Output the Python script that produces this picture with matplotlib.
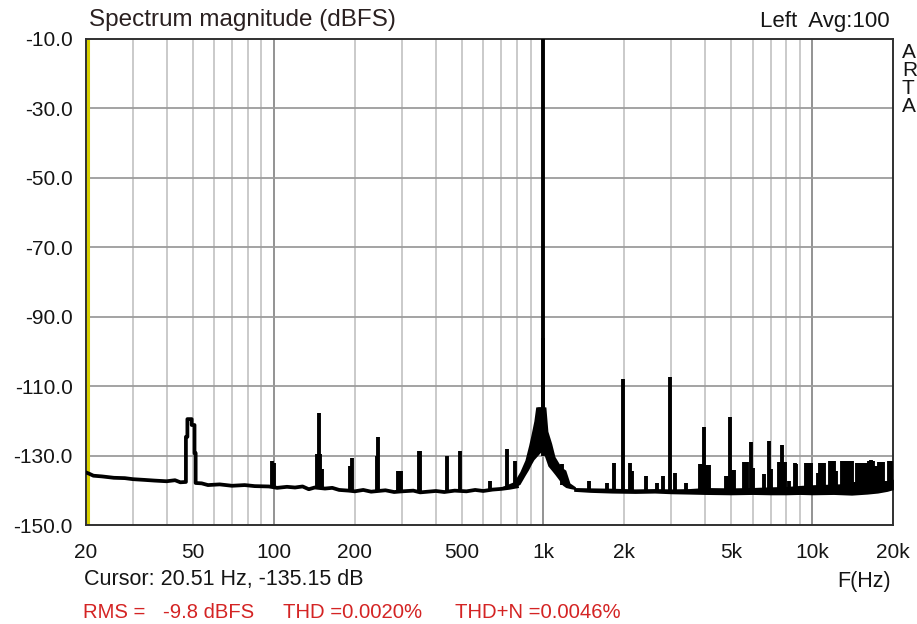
import numpy as np
import matplotlib
matplotlib.use("Agg")
import matplotlib.pyplot as plt
from matplotlib.ticker import FixedLocator, NullLocator

plt.rcParams['font.family'] = ['Liberation Sans', 'DejaVu Sans']

# noise floor trace (Hz, dBFS)
floor_hz = [20, 20.6, 21.4, 23, 25.5, 28, 30, 33, 36, 40, 43, 45, 47.2,
            47.2, 47.8, 47.8, 49.6, 49.6, 50.8, 50.8, 51.3, 51.3,
            54, 57, 63, 70, 78, 85, 96, 103, 112, 120, 128, 135, 142,
            155, 165, 175, 190, 200, 215, 230, 260, 280, 300, 330, 350,
            400, 430, 470, 520, 560, 600, 650, 700, 750, 800]
floor_db = [-134.8, -135.2, -135.8, -136.0, -136.4, -136.5, -136.8, -137.0, -137.2, -137.4, -137.1, -137.7, -137.6,
            -124.6, -124.6, -119.5, -119.5, -121.2, -121.2, -129.3, -129.3, -137.9,
            -138.0, -138.5, -138.3, -138.7, -138.5, -138.8, -138.9, -139.3, -139.0, -139.2, -138.9, -139.7, -139.2,
            -139.5, -139.3, -139.9, -140.1, -140.3, -139.9, -140.4, -140.0, -140.5, -140.3, -140.1, -140.6,
            -140.2, -140.5, -140.1, -140.3, -139.9, -140.2, -139.8, -139.6, -139.3, -138.9]

# skirt around the 1 kHz tone
skirt_hz = [700, 780, 821, 857, 885, 905, 925, 940, 960, 975, 990, 1005, 1025, 1043, 1077, 1108, 1146, 1180, 1215, 1259, 1320]
skirt_lo = [-139.6, -139.2, -138.3, -135.8, -134.0, -132.5, -131.2, -130.6, -129.8, -129.2, -128.9, -129.4, -131.3, -133.0, -134.3, -135.5, -137.0, -138.5, -139.2, -139.5, -139.8]
skirt_hi = [-139.0, -137.5, -134.6, -131.3, -127.0, -123.6, -120.0, -116.0, -115.9, -115.9, -115.9, -115.9, -116.0, -123.0, -126.5, -130.3, -132.2, -133.5, -134.2, -137.9, -139.0]

# noise band above 1.3 kHz
band_hz = [1300, 1500, 1800, 2200, 2600, 3000, 3500, 4000, 5000, 6000, 7000, 8000, 9000, 10000, 12000, 14000, 16000, 17500, 19000, 20000]
band_lo = [-140.3, -140.6, -140.8, -140.9, -140.8, -141.0, -141.1, -141.2, -141.3, -141.2, -141.3, -141.3, -141.2, -141.3, -141.2, -141.4, -141.1, -140.8, -140.3, -139.8]
band_hi = [-139.2, -139.3, -139.4, -139.6, -139.5, -139.6, -139.5, -139.2, -139.3, -139.2, -139.0, -138.9, -138.6, -138.4, -138.2, -138.0, -138.2, -137.8, -137.2, -136.8]

# hum, harmonics and spurs: frequency, peak level, base level
spike_hz = [98.5, 100.5, 145, 147, 149, 150.5, 192, 196, 241, 244, 290, 297, 345, 349, 440, 490, 635, 735, 790,
            1000, 1000, 1180, 1482, 1729, 1830, 1975, 2110, 2150, 2420, 2650, 2800, 2960, 3100, 3400,
            3820, 3880, 3950, 4050, 4120, 4780, 4850, 4950, 5050, 5120, 5600, 5700, 5900, 6050, 6600, 6900, 7050,
            7550, 7720, 7900, 8200, 8600, 8700, 9500, 9700, 9900, 10500, 10700, 10900, 11100, 11600, 11800, 12000,
            12300, 12900, 13100, 13400, 13600, 13800, 14000, 14300, 14700, 15000, 15300, 15600, 15900, 16200, 16500,
            16800, 17200, 17700, 18000, 18300, 18700, 19300, 19600, 19900]
spike_top = [-131.6, -132.2, -129.5, -117.6, -129.5, -134.0, -133.0, -130.8, -130.0, -124.6, -134.4, -134.4, -128.7, -128.7, -130.1, -128.7, -137.3, -128.1, -131.5,
             -10.0, -96.0, -132.3, -137.2, -138.0, -132.0, -107.9, -132.0, -134.5, -136.0, -138.0, -136.0, -107.3, -135.1, -138.0,
             -132.3, -132.3, -121.7, -132.7, -132.7, -136.0, -136.0, -118.8, -134.2, -134.2, -131.8, -131.8, -126.2, -133.5, -135.2, -125.7, -134.0,
             -131.8, -127.0, -131.8, -137.2, -132.0, -132.5, -132.0, -132.0, -132.0, -135.0, -132.0, -132.0, -132.0, -131.5, -131.5, -131.5,
             -134.5, -131.5, -131.5, -131.5, -131.5, -131.5, -131.5, -137.5, -132.0, -132.0, -132.0, -132.0, -132.0, -131.7, -131.3,
             -131.7, -133.0, -131.8, -131.8, -131.8, -137.2, -131.5, -131.5, -133.0]
spike_base = [-139.0, -139.0, -139.3, -139.3, -139.3, -139.3, -140.1, -140.1, -140.2, -140.2, -140.3, -140.3, -140.5, -140.5, -140.4, -140.2, -140.0, -139.3, -138.9,
              -130.0, -116.0, -138.5, -140.3, -140.5, -140.5, -140.6, -140.6, -140.6, -140.7, -140.7, -140.7, -140.8, -140.8, -140.8,
              -140.9, -140.9, -140.9, -140.9, -140.9, -141.0, -141.0, -141.0, -141.0, -141.0, -141.0, -141.0, -141.0, -141.0, -141.0, -141.0, -141.0,
              -141.0, -141.0, -141.0, -141.0, -141.0, -141.0, -141.0, -141.0, -141.0, -141.0, -141.0, -141.0, -141.0, -141.0, -141.0, -141.0,
              -141.0, -141.0, -141.0, -141.0, -141.0, -141.0, -141.0, -141.0, -141.0, -141.0, -141.0, -141.0, -141.0, -140.8, -140.8,
              -140.8, -140.6, -140.6, -140.5, -140.5, -140.4, -140.0, -140.0, -139.8]

x_ticks = [20, 50, 100, 200, 500, 1000, 2000, 5000, 10000, 20000]
x_labels = ['20', '50', '100', '200', '500', '1k', '2k', '5k', '10k', '20k']
y_ticks = [-10, -30, -50, -70, -90, -110, -130, -150]
cursor_hz = 20.51

W, H = 917, 624
fig = plt.figure(figsize=(W / 100, H / 100), dpi=100)
ax = fig.add_axes([85.5 / W, 1 - 525 / H, (893.3 - 85.5) / W, (525 - 39) / H])
ax.set_xscale('log')
ax.set_xlim(20, 20000)
ax.set_ylim(-150, -10)

# grid
minor = [m * 10 ** d for d in range(1, 5) for m in range(2, 10) if 20 < m * 10 ** d < 20000 and m * 10 ** d not in (100, 1000, 10000)]
for f in minor:
    ax.axvline(f, color='#c6c6c6', lw=1.3, zorder=1)
for f in (100, 1000, 10000):
    ax.axvline(f, color='#8a8a8a', lw=1.3, zorder=1)
for y in y_ticks[1:-1]:
    ax.axhline(y, color='#9c9c9c', lw=1.3, zorder=1)

ax.axvline(cursor_hz, color='#d8d000', lw=2.2, zorder=2)

# spectrum
ax.fill_between(skirt_hz, skirt_lo, skirt_hi, color='black', lw=0, zorder=3)
ax.fill_between(band_hz, band_lo, band_hi, color='black', lw=0, zorder=3)
ax.plot(floor_hz, floor_db, color='black', lw=2.7, zorder=4)
ax.vlines(spike_hz, spike_base, spike_top, color='black', lw=2.8, zorder=4)

ax.xaxis.set_major_locator(FixedLocator(x_ticks))
ax.xaxis.set_minor_locator(NullLocator())
ax.set_xticklabels(x_labels)
ax.set_yticks(y_ticks)
ax.set_yticklabels([f'{v:.1f}' for v in y_ticks])
ax.tick_params(axis='both', length=0, labelsize=15, colors='#151515')
ax.tick_params(axis='x', pad=13)
ax.tick_params(axis='y', pad=9)
for s in ax.spines.values():
    s.set_color('#303030')
    s.set_linewidth(1.4)


def px(x, y):
    return x / W, 1 - y / H


fig.text(*px(89, 20), 'Spectrum magnitude (dBFS)', fontsize=17.5, color='#2a2020', va='center', ha='left')
fig.text(*px(890, 22), 'Left  Avg:100', fontsize=16, color='#151515', va='center', ha='right')
for i, ch in enumerate('ARTA'):
    fig.text(*px(902, 53 + i * 17.8), ch, fontsize=15, color='#151515', va='center', ha='left')
fig.text(*px(84, 580), 'Cursor: 20.51 Hz, -135.15 dB', fontsize=15.5, color='#151515', va='center', ha='left')
fig.text(*px(891, 581), 'F(Hz)', fontsize=15.5, color='#151515', va='center', ha='right')
red = '#d42424'
fig.text(*px(83, 612), 'RMS =', fontsize=14.6, color=red, va='center', ha='left')
fig.text(*px(163, 612), '-9.8 dBFS', fontsize=14.6, color=red, va='center', ha='left')
fig.text(*px(283, 612), 'THD =0.0020%', fontsize=14.6, color=red, va='center', ha='left')
fig.text(*px(455, 612), 'THD+N =0.0046%', fontsize=14.6, color=red, va='center', ha='left')

fig.savefig('out.png', dpi=100, facecolor='white')
